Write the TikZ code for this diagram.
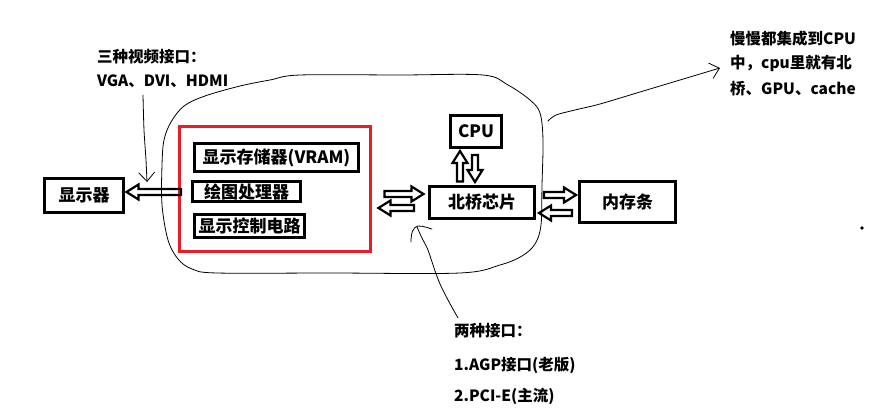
\documentclass[tikz,border=0pt]{standalone}
\usepackage{fontspec}
\setmainfont{Noto Sans CJK SC}
\usetikzlibrary{calc,arrows.meta}
\definecolor{pred}{RGB}{237,28,36}
\newcommand{\hollowarrow}[2]{%
  \coordinate (ha) at ($(#2)!12pt!(#1)$);
  \draw[fatline] ($(#1)!3pt!90:(#2)$) -- ($(ha)!3pt!90:(#2)$) -- ($(ha)!7.5pt!90:(#2)$) -- (#2)
    -- ($(ha)!7.5pt!-90:(#2)$) -- ($(ha)!3pt!-90:(#2)$) -- ($(#1)!3pt!-90:(#2)$) -- cycle;}
\tikzset{
  box/.style={draw, line width=3pt, inner sep=0pt, font=\bfseries\fontsize{17}{17}\selectfont},
  fatline/.style={draw, line width=2.2pt, line join=miter},
  note/.style={anchor=west, inner sep=0pt, text height=13pt, text depth=2pt, font=\bfseries\fontsize{15.5}{15.5}\selectfont},
  sketch/.style={line width=0.8pt, line join=round, line cap=round},
  barb/.style={-{Straight Barb[length=9pt,width=16pt]}}
}
\begin{document}
\begin{tikzpicture}[x=1pt,y=-1pt]
\useasboundingbox (0,0) rectangle (870,417);
% enclosing hand-drawn outline
\draw[sketch] plot[smooth cycle, tension=0.55] coordinates {
 (164,140) (171,122) (184,106) (205,96) (240,86) (270,80) (300,75) (400,75) (483,75)
 (508,85) (530,100) (540,113) (543,140) (542,185) (541,225) (535,244) (522,256)
 (500,265) (460,273) (330,273) (217,273) (192,269) (178,259) (168,240) (162,205) (162,165)};
% boxes
\node[box, minimum width=79pt, minimum height=34pt] (disp) at (84,195.5) {显示器};
\node[draw=pred, line width=3pt, minimum width=191pt, minimum height=125pt, inner sep=0pt] (red) at (275,189) {};
\node[box, minimum width=164pt, minimum height=28pt] (vram) at (276.5,157.5) {显示存储器(VRAM)};
\node[box, minimum width=108pt, minimum height=20pt] (gpu) at (246.5,191.5) {绘图处理器};
\node[box, minimum width=110pt, minimum height=23pt] (ctrl) at (249.5,226) {显示控制电路};
\node[box, minimum width=51pt, minimum height=32pt] (cpu) at (476,131.5) {CPU};
\node[box, minimum width=105pt, minimum height=32pt] (nb) at (482,202.5) {北桥芯片};
\node[box, minimum width=96pt, minimum height=41pt] (mem) at (627.5,202) {内存条};
% hollow arrows
\coordinate (a1s) at ($(red.east |- nb.west)+(12.5,-8.5)$);
\coordinate (a1e) at ($(nb.west)+(-4.5,-8.5)$);
\coordinate (a2s) at ($(nb.west)+(-14,5.5)$);
\coordinate (a2e) at ($(red.east |- nb.west)+(6.5,5.5)$);
\coordinate (a3s) at ($(red.west |- disp.east)+(3,-3.5)$);
\coordinate (a3e) at ($(disp.east)+(1.5,-3.5)$);
\coordinate (a4s) at ($(nb.north -| cpu.south)+(-16,-3.5)$);
\coordinate (a4e) at ($(cpu.south)+(-16,2)$);
\coordinate (a5s) at ($(cpu.south)+(-1,6)$);
\coordinate (a5e) at ($(nb.north -| cpu.south)+(-1,-3)$);
\coordinate (a6s) at ($(nb.east)+(8,-7.5)$);
\coordinate (a6e) at ($(mem.west)+(-2,-7)$);
\coordinate (a7s) at ($(mem.west)+(-6,11)$);
\coordinate (a7e) at ($(nb.east)+(3,10.5)$);
\hollowarrow{a1s}{a1e}
\hollowarrow{a2s}{a2e}
\hollowarrow{a3s}{a3e}
\hollowarrow{a4s}{a4e}
\hollowarrow{a5s}{a5e}
\hollowarrow{a6s}{a6e}
\hollowarrow{a7s}{a7e}
% annotations
\node[note] (n1) at (97,57) {三种视频接口：};
\node[note] (n2) at (97,81) {VGA、DVI、HDMI};
\node[note] (r1) at (730,39) {慢慢都集成到CPU};
\node[note] (r2) at (730,63.5) {中，cpu里就有北};
\node[note] (r3) at (730,89) {桥、GPU、cache};
\node[note] (b1) at (454,331) {两种接口：};
\node[note] (b2) at (454,364.5) {1.AGP接口(老版)};
\node[note] (b3) at (454,396) {2.PCI-E(主流)};
% pointers
\draw[sketch, barb] plot[smooth] coordinates {(143,95) (144,130) (146,160) (147,182)};
\draw[sketch, barb] plot[smooth] coordinates {(548,121) (556,115) (575,110) (600,104) (640,92) (680,80) (720,68)};
\draw[sketch] plot[smooth] coordinates {(458,318) (448,300) (440,284) (434,268) (428,250) (422,238) (417,227)};
\draw[sketch] (411,242) .. controls (411,233) and (413,227) .. (418,226) .. controls (424,226) and (428,228) .. (432,229);
\fill (862,228) circle (1.8);
\end{tikzpicture}
\end{document}
